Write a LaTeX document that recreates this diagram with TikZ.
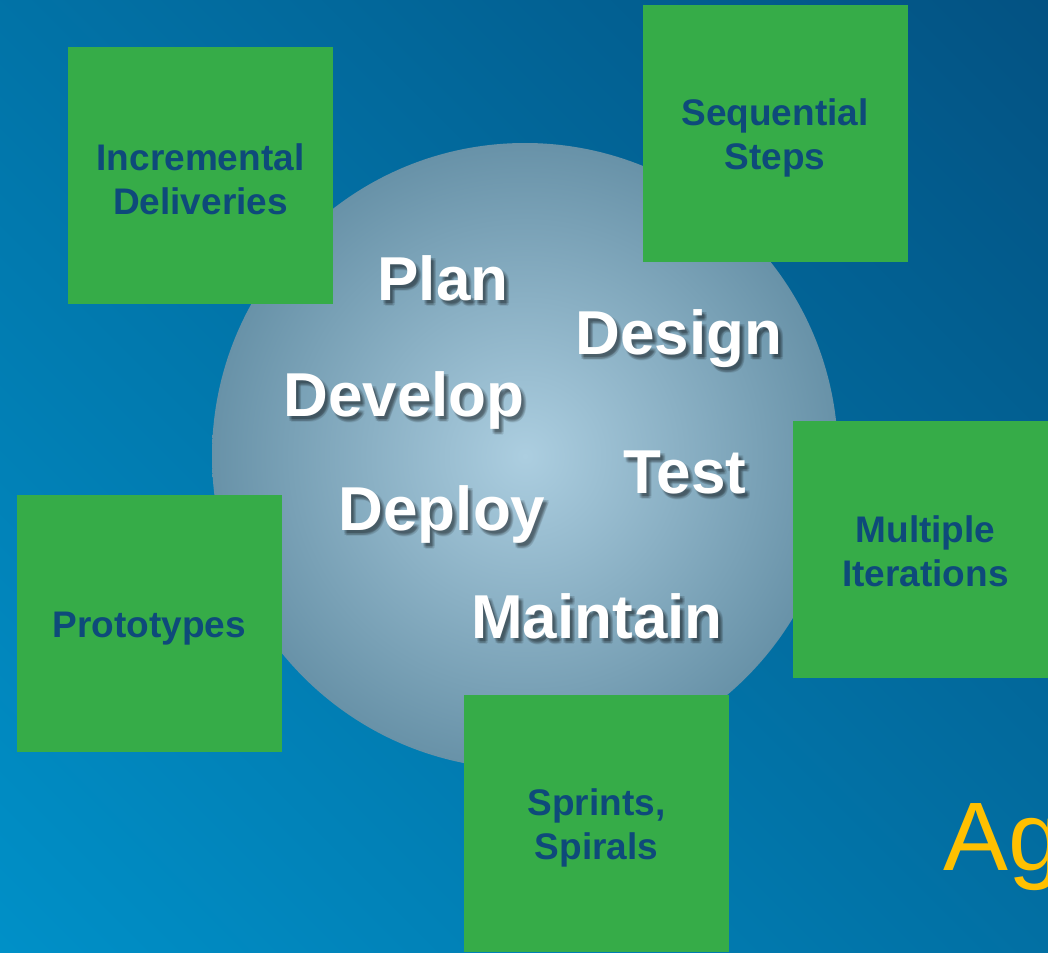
\documentclass[tikz,border=0pt]{standalone}
\usepackage{fontspec}
\setmainfont{Liberation Sans}
\usepackage{tikz}

\definecolor{bgLight}{RGB}{0,148,204}
\definecolor{bgDark}{RGB}{3,78,126}
\definecolor{ballLight}{RGB}{172,206,224}
\definecolor{ballEdge}{RGB}{104,146,168}
\definecolor{boxGreen}{RGB}{54,172,72}
\definecolor{boxText}{RGB}{14,74,122}
\definecolor{agYellow}{RGB}{255,192,0}

\begin{document}
\begin{tikzpicture} [x=0.75pt, y=-0.75pt,
		greenbox/.style={rectangle, fill=boxGreen, minimum width=198.75pt, minimum height=192.75pt, inner sep=0pt},
		boxlabel/.style={inner sep=0pt, text=boxText, align=center,
			font=\fontsize{27.75}{33}\selectfont\bfseries},
		word/.style={anchor=base, text=white, inner sep=0pt, font=\fontsize{46.5}{50}\selectfont\bfseries},
		wordshadow/.style={word, text=black, opacity=0.075}]
		\useasboundingbox (0,0) rectangle (1048,952);
		\clip (0,0) rectangle (1048,952);

		\shade [top color=bgDark, bottom color=bgLight, shading angle=-45] (-300,-300) rectangle (1348,1252);

		\shade [inner color=ballLight, outer color=ballEdge] (525,456) circle [radius=313];

		\node [greenbox] (incr) at (200.5,175.5) {};
		\node [greenbox] (seq) at (775,133.5) {};
		\node [greenbox] (proto) at (149.5,623.5) {};
		\node [greenbox] (multi) at (925.5,549.5) {};
		\node [greenbox] (sprint) at (596.5,823) {};

		\node [boxlabel] (incr-txt) at ([yshift=-2.5pt]incr.center) {Incremental\\Deliveries};
		\node [boxlabel] (seq-txt) at ([yshift=-3pt]seq.center) {Sequential\\Steps};
		\node [boxlabel] (proto-txt) at ([yshift=-4pt]proto.center) {Prototypes};
		\node [boxlabel] (multi-txt) at ([yshift=-1.5pt]multi.center) {Multiple\\Iterations};
		\node [boxlabel] (sprint-txt) at ([yshift=-3.5pt]sprint.center) {Sprints,\\Spirals};

		\foreach \name/\txt/\x/\y in {plan/Plan/443/300, design/Design/679/354, develop/Develop/404/416,
				test/Test/685/493, deploy/Deploy/442/530, maintain/Maintain/597/638}
		{
			% soft shadow, a few faint copies
			\foreach \dx/\dy [count=\k] in {2/3, 4/3, 3/5, 5/5, 3/4, 4/6, 2/5, 5/3}
				\node [wordshadow] (\name-sh\k) at (\x+\dx,\y+\dy) {\txt};
			\node [word] (\name) at (\x,\y) {\txt};
		}

		\node [anchor=base west, inner sep=0pt, text=agYellow, font=\fontsize{73}{80}\selectfont] (agile) at (943,870) {Ag};
\end{tikzpicture}
\end{document}
